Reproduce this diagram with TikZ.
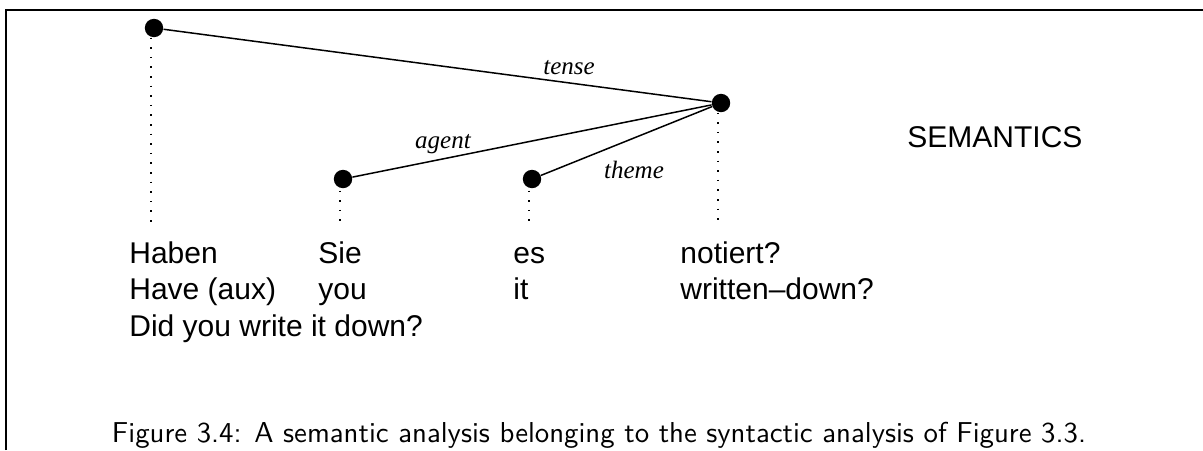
\documentclass[tikz,border=0pt]{standalone}
\usepackage{fontspec}
\setmainfont{Liberation Sans}
\newfontfamily\rolefont{Liberation Serif}
\newfontfamily\capfont{lmsans10-regular.otf}
\begin{document}
\begin{tikzpicture}[x=0.5pt,y=-0.5pt,
  dot/.style={circle,fill,inner sep=0pt,minimum size=9.2pt},
  word/.style={anchor=base west,inner sep=0pt,font=\fontsize{15}{18}\selectfont},
  role/.style={anchor=base,inner sep=0pt,font=\fontsize{12.5}{15}\rolefont\itshape},
  link/.style={line width=0.75pt},
  tie/.style={line width=0.6pt,dash pattern=on 0.8pt off 4pt}]
\useasboundingbox (0,0) rectangle (1203,450);
\path[draw,line width=1.4pt] (6,450) -- (6,10) -- (1203,10);

% semantic graph
\node[dot] (have) at (154,28) {};
\node[dot] (write) at (721,103) {};
\node[dot] (you) at (343,179) {};
\node[dot] (it) at (532,179) {};

\path[draw,link] (have) -- (write);
\path[draw,link] (write) -- (you);
\path[draw,link] (write) -- (it);

\node[role] (tense) at (569,74) {tense};
\node[role] (agent) at (443,148) {agent};
\node[role] (theme) at (634,178) {theme};

% dotted ties down to the words
\coordinate (haveend) at (151,222);
\coordinate (writeend) at (718,222);
\coordinate (youend) at (340,224);
\coordinate (itend) at (529,224);
\path[draw,tie] (have.south -| haveend) -- (haveend);
\path[draw,tie] (write.south -| writeend) -- (writeend);
\path[draw,tie] ([yshift=-1pt]you.south -| youend) -- (youend);
\path[draw,tie] ([yshift=-1pt]it.south -| itend) -- (itend);

% the sentence with glosses
\node[word] (haben) at (129,263) {Haben};
\node[word] (sie) at (318,263) {Sie};
\node[word] (es) at (513,263) {es};
\node[word] (notiert) at (680,263) {notiert?};
\node[word] (haveaux) at (129,299) {Have (aux)};
\node[word] (you2) at (318,299) {you};
\node[word] (it2) at (513,299) {it};
\node[word] (written) at (680,299) {written–down?};
\node[word] (gloss) at (129,336) {Did you write it down?};

\node[word] (sem) at (907,147) {SEMANTICS};

\node[anchor=base,inner sep=0pt,font=\capfont\fontsize{14.4}{17}\selectfont] (caption) at (599,442)
  {Figure 3.4: A semantic analysis belonging to the syntactic analysis of Figure 3.3.};
\end{tikzpicture}
\end{document}
